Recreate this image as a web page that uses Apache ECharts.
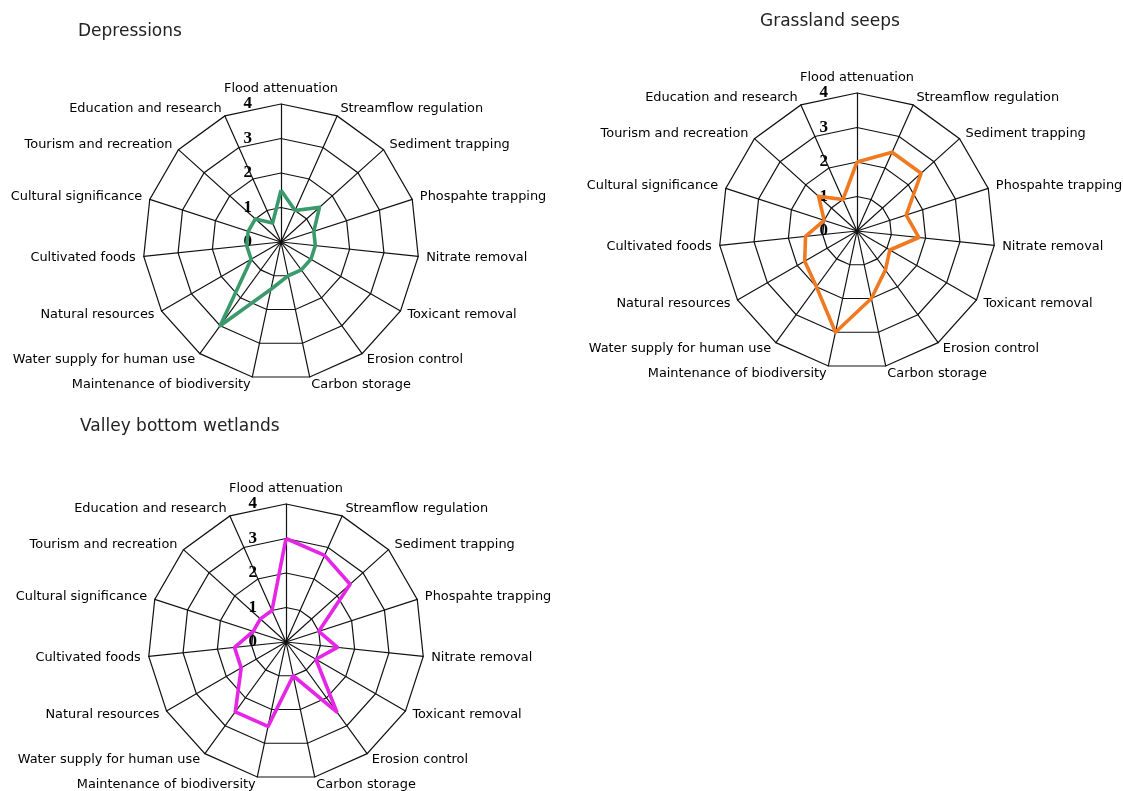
<!DOCTYPE html>
<html>
<head>
<meta charset="utf-8">
<title>Wetland ecosystem services</title>
<script src="https://cdn.jsdelivr.net/npm/echarts@6/dist/echarts.min.js"></script>
<style>
  html, body { margin: 0; padding: 0; background: #fff; }
  #chart { width: 1123px; height: 791px; }
</style>
</head>
<body>
<div id="chart"></div>
<script>
	// services, clockwise from the top
	const services = ['Flood attenuation', 'Streamflow regulation', 'Sediment trapping', 'Phospahte trapping',
		'Nitrate removal', 'Toxicant removal', 'Erosion control', 'Carbon storage', 'Maintenance of biodiversity',
		'Water supply for human use', 'Natural resources', 'Cultivated foods', 'Cultural significance',
		'Tourism and recreation', 'Education and research'];

	// scores per wetland type (0-4)
	const depressions = [1.5, 1, 1.5, 1, 1, 1, 1, 1, 1.4, 3, 1, 1, 1, 1, 0.6];
	const grasslandSeeps = [2, 2.5, 2.5, 1.5, 1.8, 1.1, 1.4, 2, 3, 2, 1.75, 1.5, 1, 1.5, 1];
	const valleyBottom = [3, 2.75, 2.5, 1, 1.5, 1, 2.5, 1, 2.5, 2.5, 1.5, 1.5, 1, 1, 1];

	const scoreMax = 4;

	// echarts lays indicators out anticlockwise, so feed them in reverse after the first one
	const order = [0].concat(services.map((s, i) => i).slice(1).reverse());

	const chart = echarts.init(document.getElementById('chart'));

	function makeRadar(center) {
		return {
			center: center,
			radius: 138,
			startAngle: 90,
			shape: 'polygon',
			splitNumber: 4,
			nameGap: 8,
			indicator: order.map(i => {
				const ind = { name: services[i], min: 0, max: scoreMax };
				if (i === 0) {
					// score labels only on the top axis
					ind.axisLabel = {
						show: true,
						margin: 29,
						color: '#000',
						fontFamily: 'Liberation Serif',
						fontWeight: 'bold',
						fontSize: 17
					};
				}
				return ind;
			}),
			axisName: {
				color: '#000',
				fontFamily: 'DejaVu Sans',
				fontSize: 12.9
			},
			splitLine: { lineStyle: { color: '#111', width: 1.2 } },
			splitArea: { show: false },
			axisLine: { lineStyle: { color: '#111', width: 1.2 } },
			axisTick: { show: false },
			axisLabel: { show: false }
		};
	}

	function makeSeries(idx, values, color) {
		return {
			type: 'radar',
			radarIndex: idx,
			symbol: 'none',
			silent: true,
			lineStyle: { color: color, width: 3.6 },
			data: [{ value: order.map(i => values[i]) }]
		};
	}

	const titleStyle = { color: '#222', fontFamily: 'DejaVu Sans', fontSize: 17, fontWeight: 'normal' };

	const option = {
		backgroundColor: '#fff',
		animation: false,
		title: [
			{ text: 'Depressions', left: 78, top: 23, padding: 0, textStyle: titleStyle },
			{ text: 'Grassland seeps', left: 760, top: 13, padding: 0, textStyle: titleStyle },
			{ text: 'Valley bottom wetlands', left: 80, top: 418, padding: 0, textStyle: titleStyle }
		],
		radar: [
			makeRadar([281, 242]),
			makeRadar([857, 231]),
			makeRadar([286, 642])
		],
		series: [
			makeSeries(0, depressions, '#3a9a6c'),
			makeSeries(1, grasslandSeeps, '#f07a22'),
			makeSeries(2, valleyBottom, '#e626e6')
		]
	};

	chart.setOption(option);
</script>
</body>
</html>
